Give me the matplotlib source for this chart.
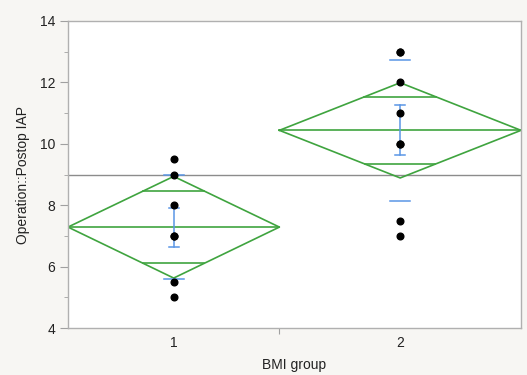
import matplotlib
matplotlib.use('Agg')
import matplotlib.pyplot as plt

# data
groups = ['1', '2']
group_n = [7, 8]
group1_vals = [9.5, 9, 8, 7, 7, 5.5, 5]
group2_vals = [13, 13, 12, 11, 10, 10, 7.5, 7]
means = [7.29, 10.44]
ci_low = [5.63, 8.89]
ci_high = [8.94, 11.99]
overlap_low = [6.11, 9.34]
overlap_high = [8.46, 11.53]
se_low = [6.65, 9.63]
se_high = [7.92, 11.25]
sd_low = [5.61, 8.14]
sd_high = [8.97, 12.73]
grand_mean = 8.97

green = '#3fa43f'
blue = '#5a96e6'
bg = '#f7f6f3'

plt.rcParams['font.family'] = ['Liberation Sans', 'DejaVu Sans']

fig = plt.figure(figsize=(5.27, 3.75), dpi=100, facecolor=bg)
ax = fig.add_axes([0.129, 0.125, 0.8596, 0.819])
ax.set_facecolor('white')

total = sum(group_n)
edges = [0, group_n[0], total]
centers = [(edges[i] + edges[i + 1]) / 2 for i in range(2)]

ax.axhline(grand_mean, color='#8c8c8c', lw=1.0, zorder=1)

for i in range(2):
    l, r, c = edges[i], edges[i + 1], centers[i]
    m = means[i]
    # diamond
    ax.plot([l, c, r, c, l], [m, ci_high[i], m, ci_low[i], m], color=green, lw=1.2, zorder=2)
    ax.plot([l, r], [m, m], color=green, lw=1.2, zorder=2)
    # overlap marks
    half = (r - l) / 2
    for y in (overlap_low[i], overlap_high[i]):
        frac = (ci_high[i] - y) / (ci_high[i] - m) if y > m else (y - ci_low[i]) / (m - ci_low[i])
        w = half * frac
        ax.plot([c - w, c + w], [y, y], color=green, lw=1.2, zorder=2)
    # std error bars
    ax.plot([c, c], [se_low[i], se_high[i]], color=blue, lw=1.1, zorder=3)
    cap = 0.17
    for y in (se_low[i], se_high[i]):
        ax.plot([c - cap, c + cap], [y, y], color=blue, lw=1.1, zorder=3)
    # std dev lines
    sdw = 0.33
    for y in (sd_low[i], sd_high[i]):
        ax.plot([c - sdw, c + sdw], [y, y], color=blue, lw=1.1, zorder=3)

ax.plot([centers[0]] * len(group1_vals), group1_vals, 'o', color='black', ms=4.8, zorder=4)
ax.plot([centers[1]] * len(group2_vals), group2_vals, 'o', color='black', ms=4.8, zorder=4)

ax.set_xlim(0, total)
ax.set_ylim(4, 14)
ax.set_yticks([4, 6, 8, 10, 12, 14])
ax.set_yticks([5, 7, 9, 11, 13], minor=True)
ax.set_xticks([edges[1]])
ax.set_xticklabels([''])
for c, g in zip(centers, groups):
    ax.text(c, -0.025, g, transform=ax.get_xaxis_transform(), ha='center', va='top',
            fontsize=10, color='#222222')

ax.tick_params(axis='y', which='major', length=6, color='#a0a0a0', labelsize=10,
               labelcolor='#222222', pad=3)
ax.tick_params(axis='y', which='minor', length=3, color='#a0a0a0')
ax.tick_params(axis='x', length=4, color='#a0a0a0')
for s in ax.spines.values():
    s.set_color('#b0b0b0')
    s.set_linewidth(1.0)

ax.set_xlabel('BMI group', fontsize=10, color='#222222', labelpad=14)
ax.set_ylabel('Operation::Postop IAP', fontsize=10, color='#222222', labelpad=7)

fig.savefig('out.png', dpi=100, facecolor=bg)
plt.close(fig)
